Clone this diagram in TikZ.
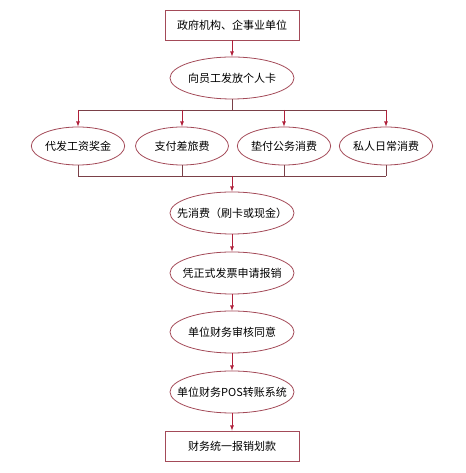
\documentclass[tikz,border=0pt]{standalone}
\usepackage{fontspec}
\setmainfont{Noto Sans CJK SC}
\usetikzlibrary{shapes.geometric,arrows}
\definecolor{edge}{HTML}{A34A58}
\definecolor{wire}{HTML}{7A4048}
\definecolor{tip}{HTML}{B0203A}
\tikzset{
  boxnode/.style={draw=edge, thick, minimum width=134pt, minimum height=30pt, inner sep=0pt, font=\fontsize{11}{13}\selectfont},
  bigell/.style={ellipse, draw=edge, thick, minimum width=124pt, minimum height=42pt, inner xsep=-12pt, inner ysep=0pt, font=\fontsize{11}{13}\selectfont},
  smallell/.style={ellipse, draw=edge, thick, minimum width=93pt, minimum height=38pt, inner sep=0pt, font=\fontsize{11}{13}\selectfont},
  wireline/.style={wire, thick},
  flow/.style={tip, thick, ->},
}
\begin{document}
\begin{tikzpicture}[x=1pt, y=1pt, >=latex]
\useasboundingbox (0,0) rectangle (465,473);

\node[boxnode] (gov) at (232,448){政府机构、企事业单位};
\node[bigell] (card) at (232,395){向员工发放个人卡};

\node[smallell] (pay) at (78,327){代发工资奖金};
\node[smallell] (trip) at (182,327){支付差旅费};
\node[smallell] (adv) at (284,327){垫付公务消费};
\node[smallell] (priv) at (386,327){私人日常消费};

\node[bigell] (spend) at (232,260){先消费（刷卡或现金）};
\node[bigell] (claim) at (232,200){凭正式发票申请报销};
\node[bigell] (agree) at (232,141){单位财务审核同意};
\node[bigell] (pos) at (232,81){单位财务POS转账系统};
\node[boxnode] (fin) at (232,27){财务统一报销划款};

% branch points
\coordinate (split) at (232,363);
\coordinate (join) at (232,297);

\draw[flow] (gov) -- (card);
\draw[wireline] (card.south) -- (split);
\draw[wireline] (pay.north |- split) -- (priv.north |- split);
\foreach \n in {pay,trip,adv,priv}
{
    \draw[flow] (\n.north |- split) -- (\n.north);
    \draw[wireline] (\n.south) -- (\n.south |- join);
}
\draw[wireline] (pay.south |- join) -- (priv.south |- join);
\draw[flow] (join) -- (spend.north);
\foreach \a/\b in {spend/claim,claim/agree,agree/pos,pos/fin}
{
    \draw[flow] (\a) -- (\b);
}
\end{tikzpicture}
\end{document}
